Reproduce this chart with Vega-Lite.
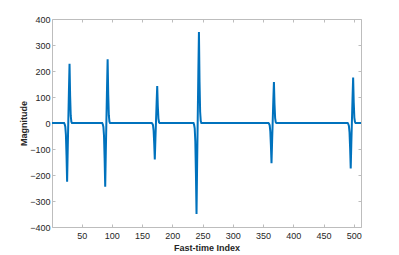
{
  "$schema": "https://vega.github.io/schema/vega-lite/v6.json",
  "width": 309,
  "height": 208,
  "autosize": {"type": "none"},
  "padding": {"left": 52, "top": 19, "right": 38, "bottom": 28},
  "background": "white",
  "config": {
    "view": {"stroke": null},
    "axis": {
      "grid": false,
      "domainColor": "#bdbdbd",
      "domainWidth": 1,
      "tickColor": "#bdbdbd",
      "tickSize": -3,
      "labelColor": "#262626",
      "labelFont": "Liberation Sans",
      "labelFontSize": 9,
      "titleFont": "Liberation Sans",
      "titleFontSize": 9,
      "titleFontWeight": "bold",
      "titleColor": "#262626"
    }
  },
  "data": {"values": [
    {"index": 1, "value": 0},
    {"index": 21, "value": 0}, {"index": 22, "value": -5}, {"index": 23, "value": -14}, {"index": 24, "value": -45}, {"index": 25, "value": -124}, {"index": 26, "value": -226}, {"index": 27, "value": -102}, {"index": 28, "value": 11}, {"index": 29, "value": 125}, {"index": 30, "value": 228}, {"index": 31, "value": 103}, {"index": 32, "value": 27}, {"index": 33, "value": 5}, {"index": 34, "value": 0},
    {"index": 84, "value": 0}, {"index": 85, "value": -5}, {"index": 86, "value": -15}, {"index": 87, "value": -49}, {"index": 88, "value": -135}, {"index": 89, "value": -245}, {"index": 90, "value": -110}, {"index": 91, "value": 12}, {"index": 92, "value": 135}, {"index": 93, "value": 245}, {"index": 94, "value": 110}, {"index": 95, "value": 29}, {"index": 96, "value": 5}, {"index": 97, "value": 0},
    {"index": 166, "value": 0}, {"index": 167, "value": -3}, {"index": 168, "value": -8}, {"index": 169, "value": -28}, {"index": 170, "value": -77}, {"index": 171, "value": -140}, {"index": 172, "value": -63}, {"index": 173, "value": 7}, {"index": 174, "value": 78}, {"index": 175, "value": 142}, {"index": 176, "value": 64}, {"index": 177, "value": 17}, {"index": 178, "value": 3}, {"index": 179, "value": 0},
    {"index": 235, "value": 0}, {"index": 236, "value": -7}, {"index": 237, "value": -21}, {"index": 238, "value": -70}, {"index": 239, "value": -193}, {"index": 240, "value": -350}, {"index": 241, "value": -158}, {"index": 242, "value": 18}, {"index": 243, "value": 193}, {"index": 244, "value": 350}, {"index": 245, "value": 158}, {"index": 246, "value": 42}, {"index": 247, "value": 7}, {"index": 248, "value": 0},
    {"index": 359, "value": 0}, {"index": 360, "value": -3}, {"index": 361, "value": -9}, {"index": 362, "value": -31}, {"index": 363, "value": -85}, {"index": 364, "value": -155}, {"index": 365, "value": -70}, {"index": 366, "value": 8}, {"index": 367, "value": 87}, {"index": 368, "value": 158}, {"index": 369, "value": 71}, {"index": 370, "value": 19}, {"index": 371, "value": 3}, {"index": 372, "value": 0},
    {"index": 490, "value": 0}, {"index": 491, "value": -4}, {"index": 492, "value": -11}, {"index": 493, "value": -35}, {"index": 494, "value": -96}, {"index": 495, "value": -175}, {"index": 496, "value": -79}, {"index": 497, "value": 9}, {"index": 498, "value": 96}, {"index": 499, "value": 175}, {"index": 500, "value": 79}, {"index": 501, "value": 21}, {"index": 502, "value": 4}, {"index": 503, "value": 0},
    {"index": 512, "value": 0}
  ]},
  "layer": [
    {
      "mark": {"type": "line", "color": "#0072BD", "strokeWidth": 2, "clip": true},
      "encoding": {
        "x": {"field": "index", "type": "quantitative", "scale": {"domain": [1, 512], "nice": false, "zero": false},
              "axis": {"orient": "bottom", "values": [50, 100, 150, 200, 250, 300, 350, 400, 450, 500], "title": "Fast-time Index", "labelPadding": 7, "titlePadding": 3}},
        "y": {"field": "value", "type": "quantitative", "scale": {"domain": [-400, 400], "nice": false, "zero": false},
              "axis": {"orient": "left", "values": [-400, -300, -200, -100, 0, 100, 200, 300, 400], "title": "Magnitude", "labelPadding": 5, "titlePadding": 1}}
      }
    },
    {
      "mark": {"type": "line", "strokeOpacity": 0},
      "encoding": {
        "x": {"field": "index", "type": "quantitative", "scale": {"domain": [1, 512], "nice": false, "zero": false},
              "axis": {"orient": "top", "values": [50, 100, 150, 200, 250, 300, 350, 400, 450, 500], "labels": false, "title": null}},
        "y": {"field": "value", "type": "quantitative", "scale": {"domain": [-400, 400], "nice": false, "zero": false},
              "axis": {"orient": "right", "values": [-400, -300, -200, -100, 0, 100, 200, 300, 400], "labels": false, "title": null}}
      }
    }
  ],
  "resolve": {"axis": {"x": "independent", "y": "independent"}}
}
